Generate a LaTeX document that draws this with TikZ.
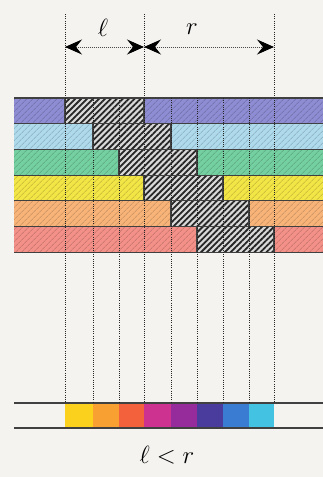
\documentclass[tikz,border=0pt]{standalone}
\usetikzlibrary{patterns.meta,arrows.meta}

\definecolor{paper}{HTML}{F4F3F0}
\definecolor{rowViolet}{HTML}{8E8CD2}
\definecolor{rowSky}{HTML}{AEDAEC}
\definecolor{rowGreen}{HTML}{74D0A0}
\definecolor{rowYellow}{HTML}{F2E546}
\definecolor{rowOrange}{HTML}{F8B478}
\definecolor{rowSalmon}{HTML}{F39088}
\definecolor{mixYellow}{HTML}{FCD11E}
\definecolor{mixOrange}{HTML}{F8A032}
\definecolor{mixRed}{HTML}{F2603C}
\definecolor{mixMagenta}{HTML}{CE3290}
\definecolor{mixPurple}{HTML}{962C9C}
\definecolor{mixIndigo}{HTML}{4A3C9C}
\definecolor{mixBlue}{HTML}{3A7CD2}
\definecolor{mixCyan}{HTML}{44C2E2}

\tikzset{
  guide/.style={gray!30!black, line width=0.6pt, dash pattern=on 1pt off 1.2pt},
  rowline/.style={black!75, line width=1.2pt},
  dimline/.style={black!70, line width=0.9pt, dash pattern=on 1pt off 1pt,
                  {Stealth[length=17pt,width=15pt,inset=6pt,black]}-{Stealth[length=17pt,width=15pt,inset=6pt,black]}},
  bigletter/.style={font=\Huge, inner sep=0pt}
}

% one coloured band, with its black hatched window
\newcommand{\colourRow}[4]{%
    \fill[#2] (14,#1) rectangle (323,#1+25.7);
    \fill[pattern={Lines[angle=45,distance=4pt,line width=0.9pt]}, pattern color=#2!70!black, opacity=0.5] (14,#1) rectangle (323,#1+25.7);
    \fill[black!15] (#3,#1) rectangle (#4,#1+25.7);
    \fill[pattern={Lines[angle=45,distance=4.2pt,line width=1.8pt]}, pattern color=black!85] (#3,#1) rectangle (#4,#1+25.7);
    \draw[rowline] (#3,#1) -- (#3,#1+25.7) (#4,#1) -- (#4,#1+25.7);
}
\newcommand{\mixCell}[3]{%
    \fill[#3] (#1,403) rectangle (#2,428);
}

\begin{document}
\begin{tikzpicture}[x=1pt, y=-1pt]

    \fill[paper] (0,0) rectangle (323,477);
    \useasboundingbox (0,0) rectangle (323,477);

    % --- columns ---
    \coordinate (t0) at (65,14);
    \coordinate (t1) at (93,98);
    \coordinate (t2) at (119,98);
    \coordinate (t3) at (144,14);
    \coordinate (t4) at (171,98);
    \coordinate (t5) at (197,98);
    \coordinate (t6) at (223,98);
    \coordinate (t7) at (249,98);
    \coordinate (t8) at (274,14);

    \coordinate (b0) at (65,403);
    \coordinate (b1) at (93,403);
    \coordinate (b2) at (119,403);
    \coordinate (b3) at (144,403);
    \coordinate (b4) at (171,403);
    \coordinate (b5) at (197,403);
    \coordinate (b6) at (223,403);
    \coordinate (b7) at (249,403);
    \coordinate (b8) at (274,403);

    % --- bands ---
    \colourRow{98}{rowViolet}{65}{144}
    \colourRow{123.7}{rowSky}{93}{171}
    \colourRow{149.4}{rowGreen}{119}{197}
    \colourRow{175.1}{rowYellow}{144}{223}
    \colourRow{200.8}{rowOrange}{171}{249}
    \colourRow{226.5}{rowSalmon}{197}{274}

    \draw[rowline] (14,98) -- (323,98);
    \draw[rowline] (14,123.7) -- (323,123.7);
    \draw[rowline] (14,149.4) -- (323,149.4);
    \draw[rowline] (14,175.1) -- (323,175.1);
    \draw[rowline] (14,200.8) -- (323,200.8);
    \draw[rowline] (14,226.5) -- (323,226.5);
    \draw[rowline] (14,252.2) -- (323,252.2);

    % --- mixed strip ---
    \mixCell{65}{93}{mixYellow}
    \mixCell{93}{119}{mixOrange}
    \mixCell{119}{144}{mixRed}
    \mixCell{144}{171}{mixMagenta}
    \mixCell{171}{197}{mixPurple}
    \mixCell{197}{223}{mixIndigo}
    \mixCell{223}{249}{mixBlue}
    \mixCell{249}{274}{mixCyan}
    \draw[rowline] (14,403) -- (323,403);
    \draw[rowline] (14,428) -- (323,428);

    % --- dotted guides ---
    \draw[guide] (t0) -- (b0);
    \draw[guide] (t1) -- (b1);
    \draw[guide] (t2) -- (b2);
    \draw[guide] (t3) -- (b3);
    \draw[guide] (t4) -- (b4);
    \draw[guide] (t5) -- (b5);
    \draw[guide] (t6) -- (b6);
    \draw[guide] (t7) -- (b7);
    \draw[guide] (t8) -- (b8);

    % --- widths l and r ---
    \coordinate (a0) at (65,47);
    \coordinate (a3) at (144,47);
    \coordinate (a8) at (274,47);
    \draw[dimline] (a0) -- (a3);
    \draw[dimline] (a3) -- (a8);

    \node[bigletter] (ell) at (103,28) {$\ell$};
    \node[bigletter] (arr) at (192,29) {$r$};
    \node[bigletter] (cmp) at (167,455) {$\ell<r$};

\end{tikzpicture}
\end{document}
